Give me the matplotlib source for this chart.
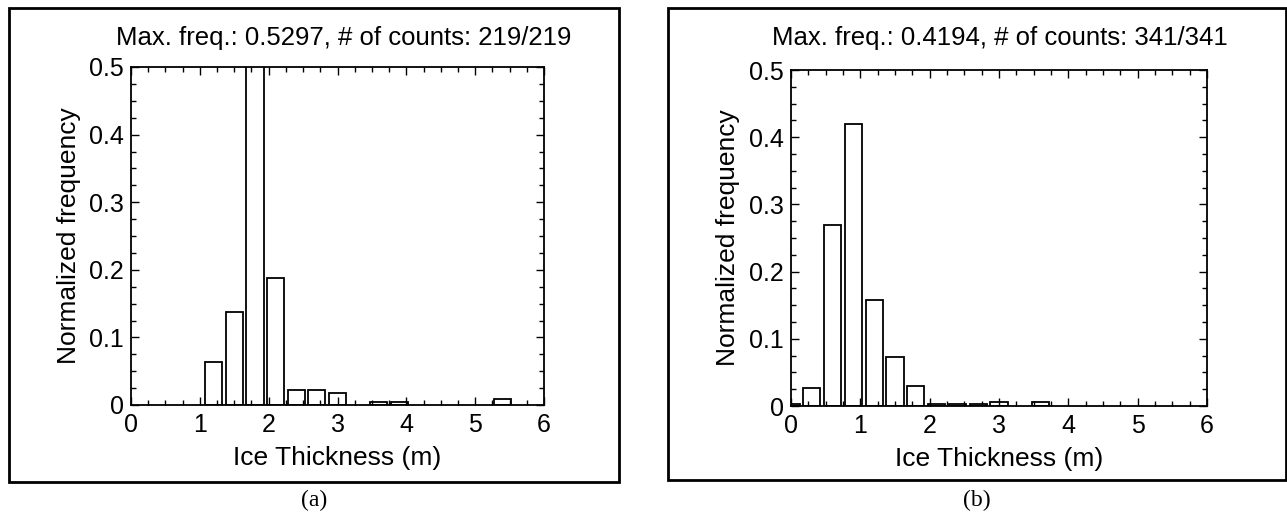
import matplotlib
matplotlib.use("Agg")
import matplotlib.pyplot as plt
from matplotlib.patches import Rectangle
from matplotlib.ticker import MultipleLocator, FuncFormatter

# panel (a): 219 counts, bins of 0.3 m
a_centers = [1.2, 1.5, 1.8, 2.1, 2.4, 2.7, 3.0, 3.6, 3.9, 5.4]
a_freq = [0.0639, 0.1370, 0.5297, 0.1872, 0.0228, 0.0228, 0.0183, 0.0046, 0.0046, 0.0091]
a_title = "Max. freq.: 0.5297, # of counts: 219/219"

# panel (b): 341 counts
b_centers = [0.0, 0.3, 0.6, 0.9, 1.2, 1.5, 1.8, 2.1, 2.4, 2.7, 3.0, 3.6]
b_freq = [0.0029, 0.0264, 0.2698, 0.4194, 0.1584, 0.0733, 0.0293, 0.0029, 0.0029, 0.0029, 0.0059, 0.0059]
b_title = "Max. freq.: 0.4194, # of counts: 341/341"

x_ticks = [0, 1, 2, 3, 4, 5, 6]
y_ticks = [0, 0.1, 0.2, 0.3, 0.4, 0.5]

plt.rcParams["font.family"] = ["Liberation Sans", "DejaVu Sans"]

W, H = 1287, 521
fig = plt.figure(figsize=(W / 100, H / 100), dpi=100)


def px(x0, y0, x1, y1):
    # pixel box (top-left origin) -> figure fraction rect
    return [x0 / W, 1 - y1 / H, (x1 - x0) / W, (y1 - y0) / H]


def yfmt(v, pos):
    return "0" if abs(v) < 1e-9 else "%.1f" % v


def panel(rect, centers, freq, title, title_x, letter, box):
    ax = fig.add_axes(rect)
    ax.bar(centers, freq, width=0.25, color="white", edgecolor="black", linewidth=1.3)
    ax.set_xlim(0, 6)
    ax.set_ylim(0, 0.5)
    ax.set_xticks(x_ticks)
    ax.set_yticks(y_ticks)
    ax.xaxis.set_minor_locator(MultipleLocator(0.25))
    ax.yaxis.set_minor_locator(MultipleLocator(0.025))
    ax.yaxis.set_major_formatter(FuncFormatter(yfmt))
    ax.tick_params(which="both", direction="in", top=True, right=True, width=1)
    ax.tick_params(which="major", length=6, labelsize=18)
    ax.tick_params(axis="x", which="major", pad=6)
    ax.tick_params(axis="y", which="major", pad=5)
    ax.tick_params(which="minor", length=3.5)
    for s in ax.spines.values():
        s.set_linewidth(1.3)
    ax.set_xlabel("Ice Thickness (m)", fontsize=19)
    ax.set_ylabel("Normalized frequency", fontsize=19)
    ax.xaxis.set_label_coords(0.5, -0.122)
    ax.yaxis.set_label_coords(-0.122, 0.5)
    fig.text(title_x / W, 1 - 45 / H, title, ha="center", va="baseline", fontsize=18.5)
    fig.patches.append(Rectangle((box[0] / W, 1 - box[3] / H), (box[2] - box[0]) / W,
                                 (box[3] - box[1]) / H, transform=fig.transFigure,
                                 fill=False, edgecolor="black", linewidth=2))
    fig.text((box[0] + box[2]) / 2 / W, 1 - 500 / H, letter, ha="center", va="center",
             fontsize=17, family=["Liberation Serif", "DejaVu Serif"])
    return ax


panel(px(131, 67, 544, 405), a_centers, a_freq, a_title, 344, "(a)", (9, 8, 619, 482))
panel(px(791, 70, 1207, 406), b_centers, b_freq, b_title, 1000, "(b)", (668, 8, 1286, 480))

fig.savefig("out.png", dpi=100)
